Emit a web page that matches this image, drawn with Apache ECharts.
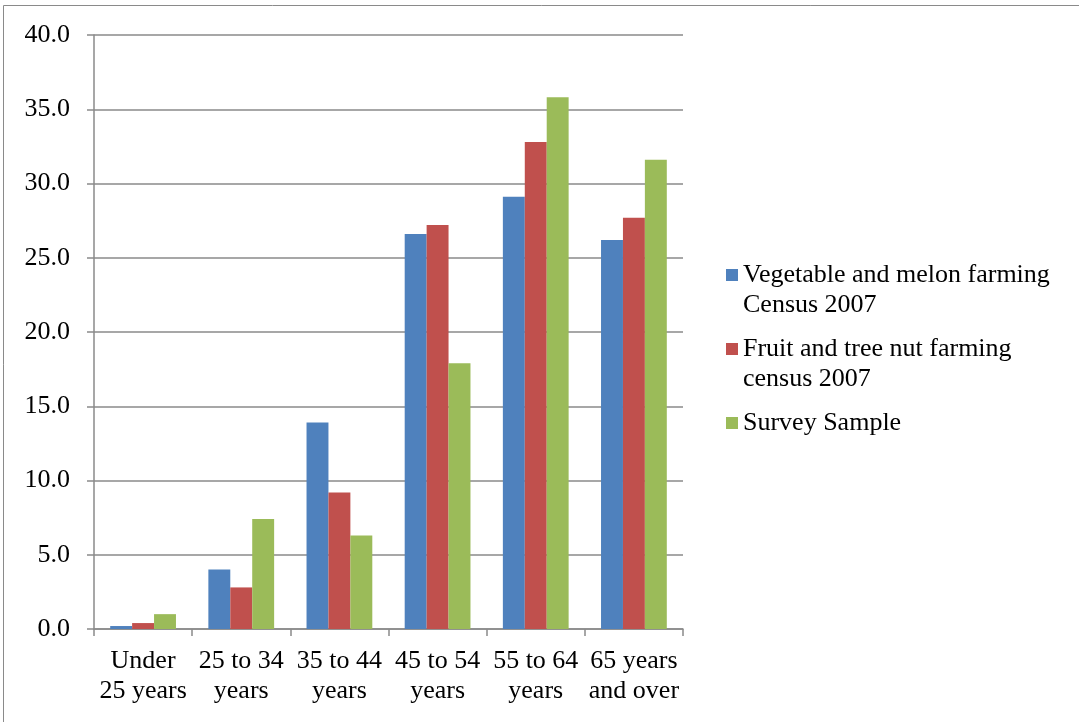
<!DOCTYPE html>
<html>
<head>
<meta charset="utf-8">
<script src="https://cdn.jsdelivr.net/npm/echarts@6/dist/echarts.min.js"></script>
<style>
html,body{margin:0;padding:0;background:#fff;}
#chart{width:1079px;height:722px;}
</style>
</head>
<body>
<div id="chart"></div>
<script>
const categories = ['Under\n25 years', '25 to 34\nyears', '35 to 44\nyears', '45 to 54\nyears', '55 to 64\nyears', '65 years\nand over'];
const vegetableMelon = [0.2, 4.0, 13.9, 26.6, 29.1, 26.2];
const fruitTreeNut = [0.4, 2.8, 9.2, 27.2, 32.8, 27.7];
const surveySample = [1.0, 7.4, 6.3, 17.9, 35.8, 31.6];
const seriesNames = ['Vegetable and melon farming Census 2007', 'Fruit and tree nut farming census 2007', 'Survey Sample'];
const legendLabels = ['Vegetable and melon farming\nCensus 2007', 'Fruit and tree nut farming\ncensus 2007', 'Survey Sample'];
const yTicks = { min: 0, max: 40, interval: 5 };

const FONT = '"Liberation Serif", "Times New Roman", serif';
const colors = ['#4F81BD', '#C0504D', '#9BBB59'];
const gray = '#8a8a8a';

const chart = echarts.init(document.getElementById('chart'), null, { renderer: 'canvas' });

function makeLegend(i, top, twoLine) {
  return {
    orient: 'vertical',
    left: 726,
    top: top,
    padding: 0,
    itemWidth: 12,
    itemHeight: 12,
    icon: 'rect',
    data: [seriesNames[i]],
    selectedMode: false,
    // a blank line above a two-line label keeps the first line level with the icon
    formatter: () => (twoLine ? ' \n' : '') + legendLabels[i],
    textStyle: {
      fontFamily: FONT,
      fontSize: 26,
      color: '#000',
      lineHeight: 30
    }
  };
}

const data = [vegetableMelon, fruitTreeNut, surveySample];

chart.setOption({
  animation: false,
  backgroundColor: '#fff',
  color: colors,
  grid: { left: 94, right: 396, top: 35, bottom: 93, containLabel: false },
  legend: [
    makeLegend(0, 230, true),
    makeLegend(1, 304, true),
    makeLegend(2, 408, false)
  ],
  xAxis: {
    type: 'category',
    data: categories,
    axisLine: { show: true, lineStyle: { color: gray, width: 1.5 } },
    axisTick: { show: true, length: 7, lineStyle: { color: gray, width: 1.5 } },
    axisLabel: {
      fontFamily: FONT, fontSize: 26, color: '#000', lineHeight: 30, margin: 17, interval: 0
    },
    splitLine: { show: false }
  },
  yAxis: {
    type: 'value',
    min: yTicks.min, max: yTicks.max, interval: yTicks.interval,
    axisLine: { show: true, lineStyle: { color: gray, width: 1.5 } },
    axisTick: { show: true, length: 7, lineStyle: { color: gray, width: 1.5 } },
    axisLabel: {
      fontFamily: FONT, fontSize: 26, color: '#000', margin: 24,
      formatter: v => v.toFixed(1)
    },
    splitLine: { show: true, lineStyle: { color: gray, width: 1.5 } }
  },
  series: seriesNames.map((name, i) => ({
    name: name,
    type: 'bar',
    data: data[i],
    barGap: '0%',
    barCategoryGap: '33%',
    itemStyle: { color: colors[i] }
  })),
  graphic: [{
    type: 'rect',
    silent: true,
    z: 100,
    shape: { x: 3.5, y: 5.5, width: 1090, height: 730 },
    style: { fill: 'none', stroke: '#8a8a8a', lineWidth: 1 }
  }]
});
</script>
</body>
</html>
